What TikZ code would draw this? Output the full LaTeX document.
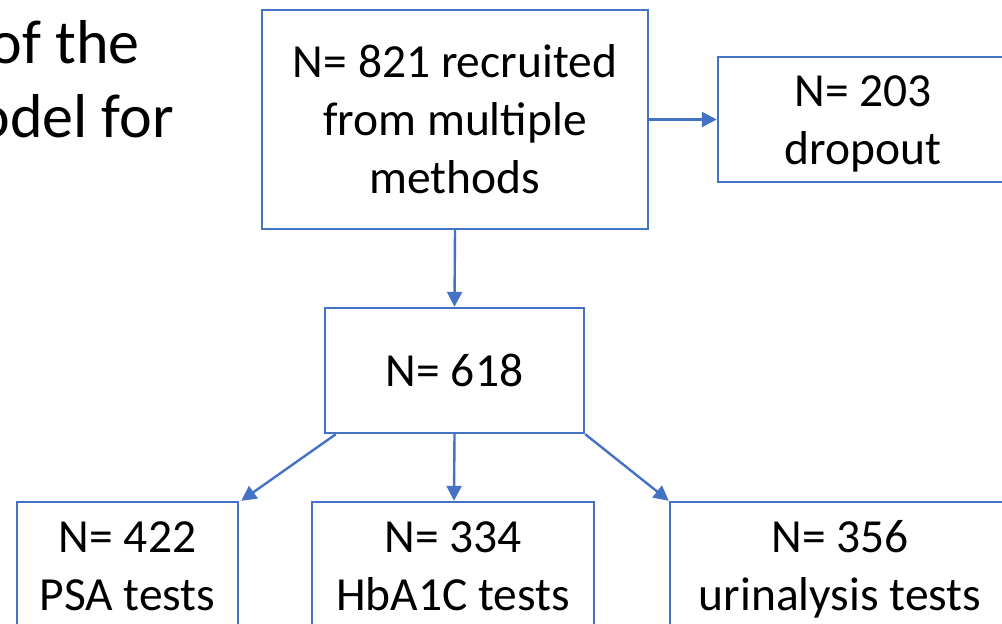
\documentclass[tikz,border=0pt]{standalone}
\usepackage{fontspec}
\setmainfont{Carlito}
\usetikzlibrary{arrows.meta}
\definecolor{ppblue}{HTML}{4472C4}
\newcommand{\bxs}{\rule[-13.5pt]{0pt}{58pt}}
\tikzset{
  box/.style={draw=ppblue, line width=2.4pt, fill=white, inner sep=0pt, align=center,
    font=\fontsize{47.5}{58}\selectfont},
  arr/.style={draw=ppblue, line width=2.4pt, -{Triangle[length=15pt,width=15pt]}},
  titletext/.style={inner sep=0pt, anchor=base east, font=\fontsize{62}{75}\selectfont}
}
\begin{document}
\begin{tikzpicture}[x=1pt,y=-1pt]
\useasboundingbox (0,0) rectangle (1002,624);
\clip (0,0) rectangle (1002,624);
\node[titletext] (t1) at (140,63) {of the};
\node[titletext] (t2) at (174,137) {odel for};
\node[box, minimum width=386pt, minimum height=219pt] (rec) at (455,119.5) {\bxs N= 821 recruited\\\bxs from multiple\\\bxs methods};
\node[box, minimum width=290pt, minimum height=125pt] (drop) at (863,119.5) {\bxs N= 203\\\bxs dropout};
\node[box, minimum width=259pt, minimum height=125pt] (mid) at (454.5,370.5) {\bxs N= 618};
\node[box, minimum width=221pt, minimum height=128pt] (psa) at (127.5,566) {\bxs N= 422\\\bxs PSA tests};
\node[box, minimum width=282pt, minimum height=128pt] (hba) at (453,566) {\bxs N= 334\\\bxs HbA1C tests};
\node[box, minimum width=340pt, minimum height=128pt] (uri) at (840,566) {\bxs N= 356\\\bxs urinalysis tests};
\draw[arr] (rec.east) -- (drop.west);
\draw[arr] (rec.south) -- (mid.north);
\draw[arr] ([xshift=12pt]mid.south west) -- ([xshift=2pt]psa.north east);
\draw[arr] (mid.south) -- ([xshift=1pt]hba.north);
\draw[arr] (mid.south east) -- (uri.north west);
\end{tikzpicture}
\end{document}
